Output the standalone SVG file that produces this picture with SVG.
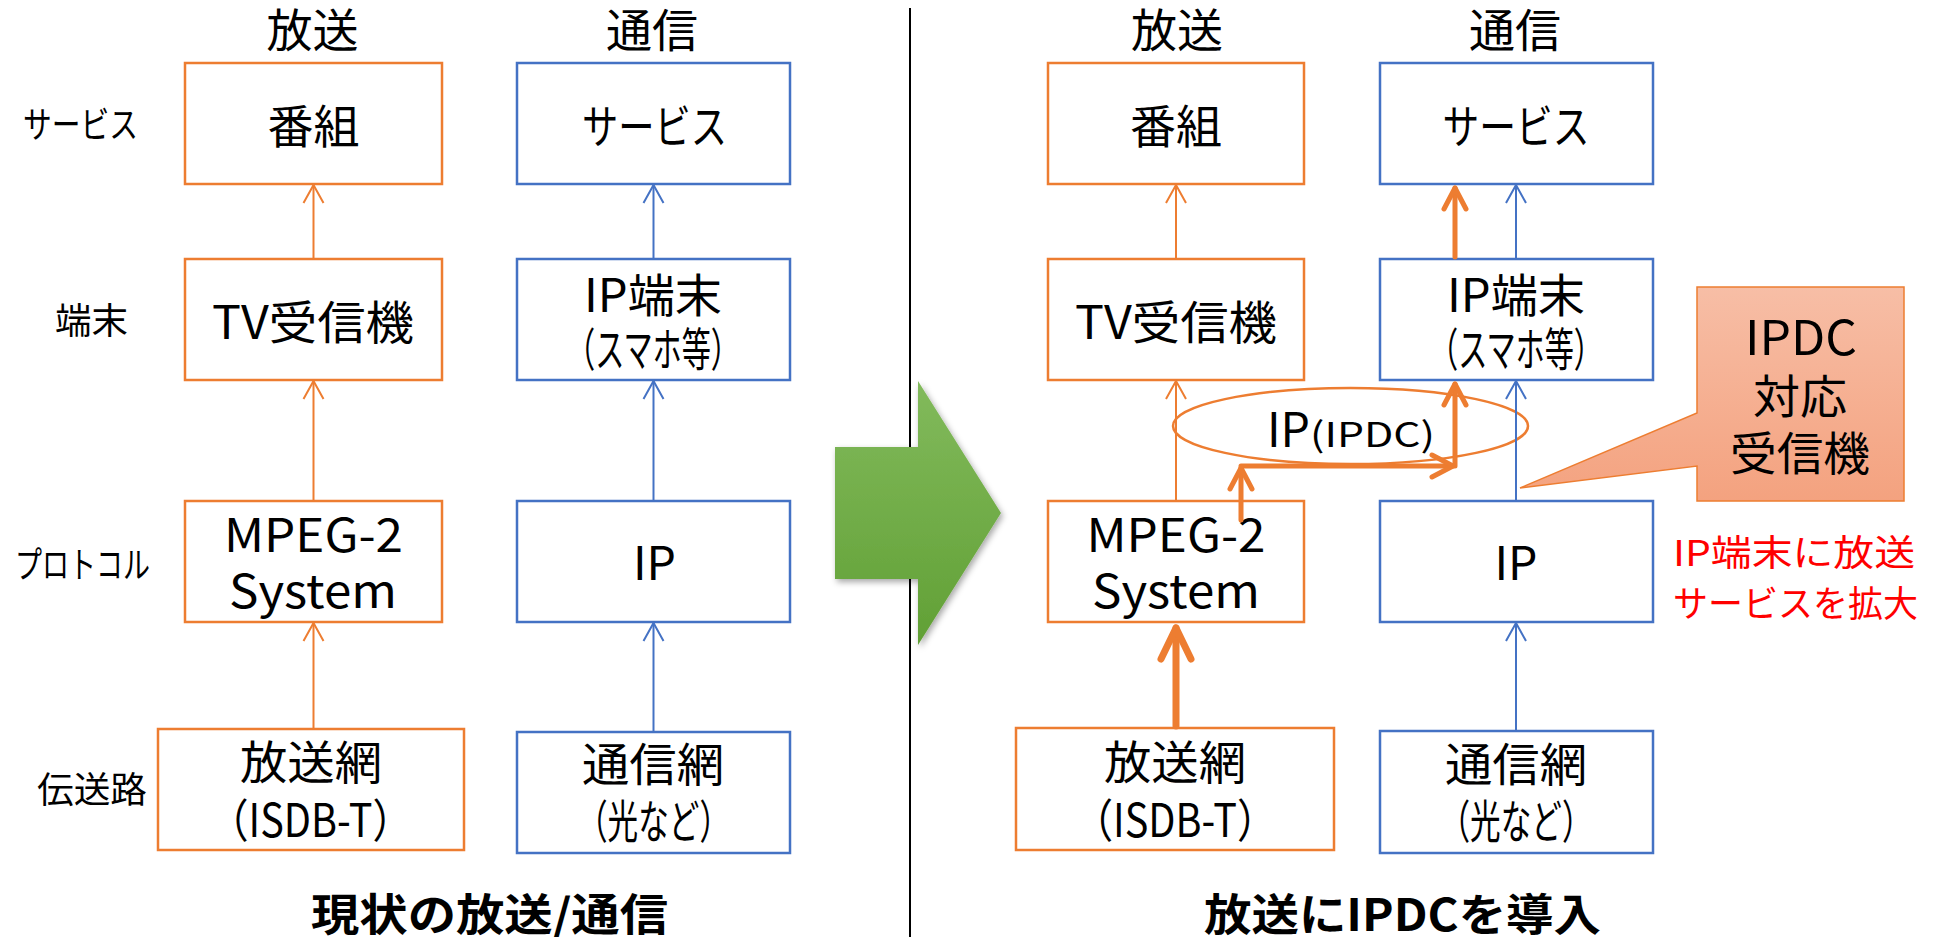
<svg xmlns="http://www.w3.org/2000/svg" width="1933" height="937" viewBox="0 0 1933 937">
<defs>
<style>
.ob{fill:#fff;stroke:#ED7D31;stroke-width:2.5}
.bb{fill:#fff;stroke:#4472C4;stroke-width:2.5}
.t{font-family:"Noto Sans CJK JP","Noto Sans CJK SC",sans-serif;fill:#000;text-anchor:middle}
.f46{font-size:46px}
.f36{font-size:36px}
.ttl{font-size:44px;font-weight:bold}
.lo{stroke:#ED7D31;stroke-width:2;fill:none}
.lb{stroke:#4472C4;stroke-width:2;fill:none}
.lt{stroke:#ED7D31;stroke-width:5;fill:none;stroke-linecap:round}
.lbig{stroke:#ED7D31;stroke-width:7;fill:none;stroke-linecap:round}
.red{font-family:"Noto Sans CJK JP",sans-serif;font-size:36px;fill:#FF0000}
</style>
<marker id="ao" markerUnits="userSpaceOnUse" orient="auto" refX="0" refY="0" markerWidth="30" markerHeight="30" overflow="visible">
<path d="M-18,-10 L0,0 L-18,10" fill="none" stroke="#ED7D31" stroke-width="2" stroke-linejoin="round"/>
</marker>
<marker id="ab" markerUnits="userSpaceOnUse" orient="auto" refX="0" refY="0" markerWidth="30" markerHeight="30" overflow="visible">
<path d="M-18,-10 L0,0 L-18,10" fill="none" stroke="#4472C4" stroke-width="2" stroke-linejoin="round"/>
</marker>
<marker id="at" markerUnits="userSpaceOnUse" orient="auto" refX="0" refY="0" markerWidth="40" markerHeight="40" overflow="visible">
<path d="M-21,-11 L0,0 L-21,11" fill="none" stroke="#ED7D31" stroke-width="5" stroke-linejoin="round" stroke-linecap="round"/>
</marker>
<marker id="abig" markerUnits="userSpaceOnUse" orient="auto" refX="0" refY="0" markerWidth="50" markerHeight="50" overflow="visible">
<path d="M-31,-15 L0,0 L-31,15" fill="none" stroke="#ED7D31" stroke-width="7" stroke-linejoin="round" stroke-linecap="round"/>
</marker>
<linearGradient id="gGreen" x1="0" y1="0" x2="0" y2="1">
<stop offset="0" stop-color="#82BA5C"/>
<stop offset="1" stop-color="#61A035"/>
</linearGradient>
<linearGradient id="gSalmon" x1="0" y1="0" x2="0" y2="1">
<stop offset="0" stop-color="#F7BEA6"/>
<stop offset="1" stop-color="#F4A27F"/>
</linearGradient>
<filter id="shadow" x="-20%" y="-20%" width="140%" height="140%">
<feDropShadow dx="2" dy="3" stdDeviation="3" flood-color="#000" flood-opacity="0.35"/>
</filter>
</defs>
<rect width="1933" height="937" fill="#fff"/>

<!-- divider -->
<line x1="910" y1="8" x2="910" y2="937" stroke="#000" stroke-width="2"/>

<!-- row labels -->
<g id="row-labels">
<text class="t f36" x="80.5" y="138" textLength="115" lengthAdjust="spacingAndGlyphs">サービス</text>
<text class="t f36" x="91.5" y="334" textLength="73" lengthAdjust="spacingAndGlyphs">端末</text>
<text class="t f36" x="82.5" y="578" textLength="135" lengthAdjust="spacingAndGlyphs">プロトコル</text>
<text class="t f36" x="92" y="803" textLength="110" lengthAdjust="spacingAndGlyphs">伝送路</text>
</g>

<!-- headers -->
<g id="headers-left">
<text class="t f46" x="312.5" y="47">放送</text>
<text class="t f46" x="652" y="47">通信</text>
</g>
<g id="headers-right">
<text class="t f46" x="1177" y="47">放送</text>
<text class="t f46" x="1515" y="47">通信</text>
</g>

<!-- LEFT nodes -->
<g id="L-bangumi">
<rect class="ob" x="185" y="63" width="257" height="121"/>
<text class="t f46" x="313.5" y="142.5">番組</text>
</g>
<g id="L-service">
<rect class="bb" x="517" y="63" width="273" height="121"/>
<text class="t f46" x="654.5" y="143" textLength="145" lengthAdjust="spacingAndGlyphs">サービス</text>
</g>
<g id="L-tv">
<rect class="ob" x="185" y="259" width="257" height="121"/>
<text class="t f46" x="313" y="339" textLength="202" lengthAdjust="spacingAndGlyphs">TV受信機</text>
</g>
<g id="L-ipterm">
<rect class="bb" x="517" y="259" width="273" height="121"/>
<text class="t f46"><tspan x="653" y="312" textLength="138" lengthAdjust="spacingAndGlyphs">IP端末</tspan><tspan x="653" y="366" textLength="174" lengthAdjust="spacingAndGlyphs">（スマホ等）</tspan></text>
</g>
<g id="L-mpeg">
<rect class="ob" x="185" y="501" width="257" height="121"/>
<text class="t f46"><tspan x="313.5" y="552" textLength="179" lengthAdjust="spacingAndGlyphs">MPEG-2</tspan><tspan x="313" y="608" textLength="168" lengthAdjust="spacingAndGlyphs">System</tspan></text>
</g>
<g id="L-ip">
<rect class="bb" x="517" y="501" width="273" height="121"/>
<text class="t f46" x="654.5" y="580" textLength="43" lengthAdjust="spacingAndGlyphs">IP</text>
</g>
<g id="L-bcnet">
<rect class="ob" x="158" y="729" width="306" height="121"/>
<text class="t f46"><tspan x="311" y="778.5" textLength="142" lengthAdjust="spacingAndGlyphs">放送網</tspan><tspan x="310.5" y="837" textLength="203" lengthAdjust="spacingAndGlyphs">（ISDB-T）</tspan></text>
</g>
<g id="L-comnet">
<rect class="bb" x="517" y="732" width="273" height="121"/>
<text class="t f46"><tspan x="653" y="781" textLength="142" lengthAdjust="spacingAndGlyphs">通信網</tspan><tspan x="653.5" y="838" textLength="153" lengthAdjust="spacingAndGlyphs">（光など）</tspan></text>
</g>

<!-- RIGHT nodes -->
<g id="R-bangumi">
<rect class="ob" x="1048" y="63" width="256" height="121"/>
<text class="t f46" x="1176" y="142.5">番組</text>
</g>
<g id="R-service">
<rect class="bb" x="1380" y="63" width="273" height="121"/>
<text class="t f46" x="1516" y="143" textLength="147" lengthAdjust="spacingAndGlyphs">サービス</text>
</g>
<g id="R-tv">
<rect class="ob" x="1048" y="259" width="256" height="121"/>
<text class="t f46" x="1176" y="339" textLength="202" lengthAdjust="spacingAndGlyphs">TV受信機</text>
</g>
<g id="R-ipterm">
<rect class="bb" x="1380" y="259" width="273" height="121"/>
<text class="t f46"><tspan x="1516" y="312" textLength="138" lengthAdjust="spacingAndGlyphs">IP端末</tspan><tspan x="1516" y="366" textLength="174" lengthAdjust="spacingAndGlyphs">（スマホ等）</tspan></text>
</g>
<g id="R-mpeg">
<rect class="ob" x="1048" y="501" width="256" height="121"/>
<text class="t f46"><tspan x="1176" y="552" textLength="179" lengthAdjust="spacingAndGlyphs">MPEG-2</tspan><tspan x="1176" y="608" textLength="168" lengthAdjust="spacingAndGlyphs">System</tspan></text>
</g>
<g id="R-ip">
<rect class="bb" x="1380" y="501" width="273" height="121"/>
<text class="t f46" x="1516" y="580" textLength="43" lengthAdjust="spacingAndGlyphs">IP</text>
</g>
<g id="R-bcnet">
<rect class="ob" x="1016" y="728" width="318" height="122"/>
<text class="t f46"><tspan x="1175" y="778.5" textLength="142" lengthAdjust="spacingAndGlyphs">放送網</tspan><tspan x="1175" y="837" textLength="203" lengthAdjust="spacingAndGlyphs">（ISDB-T）</tspan></text>
</g>
<g id="R-comnet">
<rect class="bb" x="1380" y="731" width="273" height="122"/>
<text class="t f46"><tspan x="1516" y="781" textLength="142" lengthAdjust="spacingAndGlyphs">通信網</tspan><tspan x="1516" y="838" textLength="153" lengthAdjust="spacingAndGlyphs">（光など）</tspan></text>
</g>

<!-- IPDC ellipse -->
<g id="R-ipdc">
<ellipse cx="1350.5" cy="426" rx="177.5" ry="38" fill="none" stroke="#ED7D31" stroke-width="2.5"/>
<text class="t" style="text-anchor:start"><tspan x="1267" y="447" style="font-size:48px" textLength="43" lengthAdjust="spacingAndGlyphs">IP</tspan><tspan x="1310" y="447" style="font-size:34px" textLength="125" lengthAdjust="spacingAndGlyphs">(IPDC)</tspan></text>
</g>

<!-- connectors -->
<g id="connectors">
<line class="lo" x1="313.5" y1="259" x2="313.5" y2="185" marker-end="url(#ao)"/>
<line class="lo" x1="313.5" y1="501" x2="313.5" y2="381" marker-end="url(#ao)"/>
<line class="lo" x1="313.5" y1="729" x2="313.5" y2="623" marker-end="url(#ao)"/>
<line class="lb" x1="653.5" y1="259" x2="653.5" y2="185" marker-end="url(#ab)"/>
<line class="lb" x1="653.5" y1="501" x2="653.5" y2="381" marker-end="url(#ab)"/>
<line class="lb" x1="653.5" y1="732" x2="653.5" y2="623" marker-end="url(#ab)"/>

<line class="lo" x1="1176" y1="259" x2="1176" y2="185" marker-end="url(#ao)"/>
<line class="lo" x1="1176" y1="501" x2="1176" y2="381" marker-end="url(#ao)"/>
<line class="lb" x1="1516" y1="259" x2="1516" y2="185" marker-end="url(#ab)"/>
<line class="lb" x1="1516" y1="501" x2="1516" y2="381" marker-end="url(#ab)"/>
<line class="lb" x1="1516" y1="731" x2="1516" y2="623" marker-end="url(#ab)"/>

<line class="lbig" x1="1176" y1="726" x2="1176" y2="628" marker-end="url(#abig)"/>
<line class="lt" x1="1455" y1="257" x2="1455" y2="188" marker-end="url(#at)"/>
<line class="lt" x1="1241" y1="520" x2="1241" y2="468" marker-end="url(#at)"/>
<line class="lt" x1="1241" y1="466" x2="1453" y2="466" marker-end="url(#at)"/>
<line class="lt" x1="1455" y1="466" x2="1455" y2="384" marker-end="url(#at)"/>
</g>

<!-- callout -->
<g id="callout">
<path d="M1697,287 H1904 V501 H1697 V466 L1520,488 L1697,413 Z" fill="url(#gSalmon)" stroke="#ED7D31" stroke-width="1.5"/>
<text class="t"><tspan x="1801" y="355" style="font-size:48px" textLength="112" lengthAdjust="spacingAndGlyphs">IPDC</tspan><tspan x="1800" y="413" style="font-size:46px" textLength="94" lengthAdjust="spacingAndGlyphs">対応</tspan><tspan x="1800" y="470" style="font-size:46px" textLength="140" lengthAdjust="spacingAndGlyphs">受信機</tspan></text>
</g>

<!-- red note -->
<g id="note">
<text class="red"><tspan x="1673" y="566" textLength="242" lengthAdjust="spacingAndGlyphs">IP端末に放送</tspan><tspan x="1673" y="617" textLength="245" lengthAdjust="spacingAndGlyphs">サービスを拡大</tspan></text>
</g>

<!-- green arrow -->
<g id="transition-arrow">
<polygon points="835,447 918,447 918,381 1001,513 918,645 918,579 835,579" fill="url(#gGreen)" filter="url(#shadow)"/>
</g>

<!-- titles -->
<g id="titles">
<text class="t ttl" x="489.5" y="931" textLength="357" lengthAdjust="spacingAndGlyphs">現状の放送/通信</text>
<text class="t ttl" x="1402.5" y="931" textLength="397" lengthAdjust="spacingAndGlyphs">放送にIPDCを導入</text>
</g>
</svg>
